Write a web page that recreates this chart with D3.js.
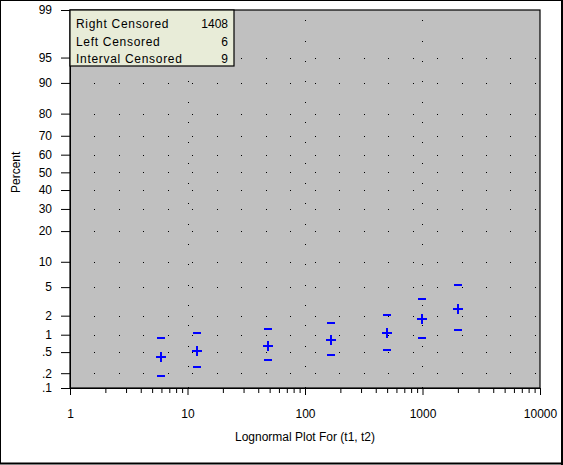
<!DOCTYPE html>
<html>
<head>
<meta charset="utf-8">
<script src="https://cdn.jsdelivr.net/npm/d3@7"></script>
<style>
  body { margin: 0; background: #fff; }
  svg { display: block; font-family: "Liberation Sans", Arial, sans-serif; }
</style>
</head>
<body>
<svg></svg>
<script>
// data
const times = [6, 12, 48, 168, 500, 1000, 2000];
const percent = [0.40, 0.525, 0.65, 0.83, 1.06, 1.75, 2.5];
const upper = [0.875, 1.07, 1.23, 1.55, 2.06, 3.51, 5.32];
const lower = [0.174, 0.261, 0.355, 0.44, 0.54, 0.875, 1.19];

const xTicks = [1, 10, 100, 1000, 10000];
const yTicks = [0.1, 0.2, 0.5, 1, 2, 5, 10, 20, 30, 40, 50, 60, 70, 80, 90, 95, 99];
const yTickLabels = [".1", ".2", ".5", "1", "2", "5", "10", "20", "30", "40", "50", "60", "70", "80", "90", "95", "99"];

const legendLabels = ["Right Censored", "Left Censored", "Interval Censored"];
const legendCounts = [1408, 6, 9];

const width = 563;
const height = 465;
const padLeft = 70, padRight = 540, padTop = 10, padBottom = 388;

const svg = d3.select("svg").attr("width", width).attr("height", height);

// inverse normal cdf (Acklam) for the probability axis
const probit = (p) => {
  const a = [-39.6968302866538, 220.946098424521, -275.928510446969, 138.357751867269, -30.6647980661472, 2.50662827745924];
  const b = [-54.4760987982241, 161.585836858041, -155.698979859887, 66.8013118877197, -13.2806815528857];
  const c = [-0.00778489400243029, -0.322396458041136, -2.40075827716184, -2.54973253934373, 4.37466414146497, 2.93816398269878];
  const d = [0.00778469570904146, 0.32246712907004, 2.445134137143, 3.75440866190742];
  const pl = 0.02425;
  let q, r;
  if (p < pl) {
    q = Math.sqrt(-2 * Math.log(p));
    return (((((c[0] * q + c[1]) * q + c[2]) * q + c[3]) * q + c[4]) * q + c[5]) / ((((d[0] * q + d[1]) * q + d[2]) * q + d[3]) * q + 1);
  }
  if (p > 1 - pl) {
    q = Math.sqrt(-2 * Math.log(1 - p));
    return -(((((c[0] * q + c[1]) * q + c[2]) * q + c[3]) * q + c[4]) * q + c[5]) / ((((d[0] * q + d[1]) * q + d[2]) * q + d[3]) * q + 1);
  }
  q = p - 0.5;
  r = q * q;
  return (((((a[0] * r + a[1]) * r + a[2]) * r + a[3]) * r + a[4]) * r + a[5]) * q / (((((b[0] * r + b[1]) * r + b[2]) * r + b[3]) * r + b[4]) * r + 1);
};
const z = (pct) => probit(pct / 100);

const xScale = d3.scaleLog().domain([1, 10000]).range([padLeft, padRight]);
const yScale = d3.scaleLinear().domain([z(0.1), z(99)]).range([padBottom, padTop]);

// outer frame
svg.append("rect").attr("x", 0.5).attr("y", 0.5).attr("width", 561).attr("height", 463)
  .attr("fill", "none").attr("stroke", "#000");
svg.append("line").attr("x1", 562).attr("x2", 562).attr("y1", 0).attr("y2", 465).attr("stroke", "#000").attr("stroke-width", 2);
svg.append("line").attr("x1", 0).attr("x2", 563).attr("y1", 463.5).attr("y2", 463.5).attr("stroke", "#000").attr("stroke-width", 2);

// plot area
svg.append("rect").attr("x", padLeft).attr("y", padTop).attr("width", padRight - padLeft).attr("height", padBottom - padTop)
  .attr("fill", "#c0c0c0");

// dotted grid
const grid = svg.append("g").attr("stroke", "#000").attr("stroke-width", 1).attr("shape-rendering", "crispEdges");
grid.selectAll(".h").data(yTicks.filter((t) => t > 0.1 && t < 99)).join("line")
  .attr("x1", padLeft).attr("x2", padRight)
  .attr("y1", (d) => Math.round(yScale(z(d))) + 0.5).attr("y2", (d) => Math.round(yScale(z(d))) + 0.5)
  .attr("stroke-dasharray", "1 23.47");
grid.selectAll(".v").data(xTicks.filter((t) => t > 1 && t < 10000)).join("line")
  .attr("x1", (d) => Math.round(xScale(d)) + 0.5).attr("x2", (d) => Math.round(xScale(d)) + 0.5)
  .attr("y1", padBottom - 0.5).attr("y2", padTop)
  .attr("stroke-dasharray", "1 19.35");

// axes
const yAxis = d3.axisLeft(yScale)
  .tickValues(yTicks.map(z))
  .tickFormat((d, i) => yTickLabels[i])
  .tickSize(9).tickSizeOuter(0).tickPadding(9);
svg.append("g").attr("transform", `translate(${padLeft},0)`).call(yAxis);

const xAxis = d3.axisBottom(xScale)
  .tickValues(xTicks)
  .tickFormat(d3.format("d"))
  .tickSize(7).tickSizeOuter(0).tickPadding(14);
svg.append("g").attr("transform", `translate(0,${padBottom})`).call(xAxis);

const minor = [];
xTicks.slice(0, -1).forEach((t) => { for (let k = 2; k < 10; k++) minor.push(t * k); });
svg.append("g").attr("transform", `translate(0,${padBottom})`)
  .call(d3.axisBottom(xScale).tickValues(minor).tickFormat("").tickSize(5).tickSizeOuter(0));

svg.selectAll(".tick text").attr("font-size", 12).attr("fill", "#000").attr("font-family", "Liberation Sans, Arial, sans-serif");
svg.selectAll(".tick line, .domain").attr("stroke", "#000");

// plot border
svg.append("rect").attr("x", padLeft).attr("y", padTop).attr("width", padRight - padLeft).attr("height", padBottom - padTop)
  .attr("fill", "none").attr("stroke", "#000").attr("stroke-width", 1.2);

// axis titles
svg.append("text").attr("x", (padLeft + padRight) / 2).attr("y", 441).attr("text-anchor", "middle")
  .attr("font-size", 12).text("Lognormal Plot For (t1, t2)");
svg.append("text").attr("transform", `translate(20,${yScale(0)}) rotate(-90)`).attr("text-anchor", "middle")
  .attr("font-size", 12).text("Percent");

// markers
const pos = (d) => `translate(${Math.round(xScale(d[0]))},${Math.round(yScale(z(d[1])))})`;
const marks = svg.append("g").attr("stroke", "#0000ff").attr("fill", "none").attr("stroke-width", 2);
marks.selectAll(".ci").data(times.flatMap((t, i) => [[t, upper[i]], [t, lower[i]]])).join("path")
  .attr("transform", pos)
  .attr("d", "M-4,0H4");
marks.selectAll(".pt").data(times.map((t, i) => [t, percent[i]])).join("path")
  .attr("transform", pos)
  .attr("d", "M-5,0H5M0,-5V5");

// legend box
const lg = svg.append("g");
lg.append("rect").attr("x", padLeft).attr("y", padTop).attr("width", 164).attr("height", 56)
  .attr("fill", "#e8ecd8").attr("stroke", "#000").attr("stroke-width", 1.2);
lg.selectAll(".lab").data(legendLabels).join("text")
  .attr("x", padLeft + 6).attr("y", (d, i) => padTop + 18 + i * 17.5)
  .attr("font-size", 12).attr("letter-spacing", 0.7).text((d) => d);
lg.selectAll(".cnt").data(legendCounts).join("text")
  .attr("x", padLeft + 158).attr("y", (d, i) => padTop + 18 + i * 17.5).attr("text-anchor", "end")
  .attr("font-size", 12).text((d) => d);
</script>
</body>
</html>
